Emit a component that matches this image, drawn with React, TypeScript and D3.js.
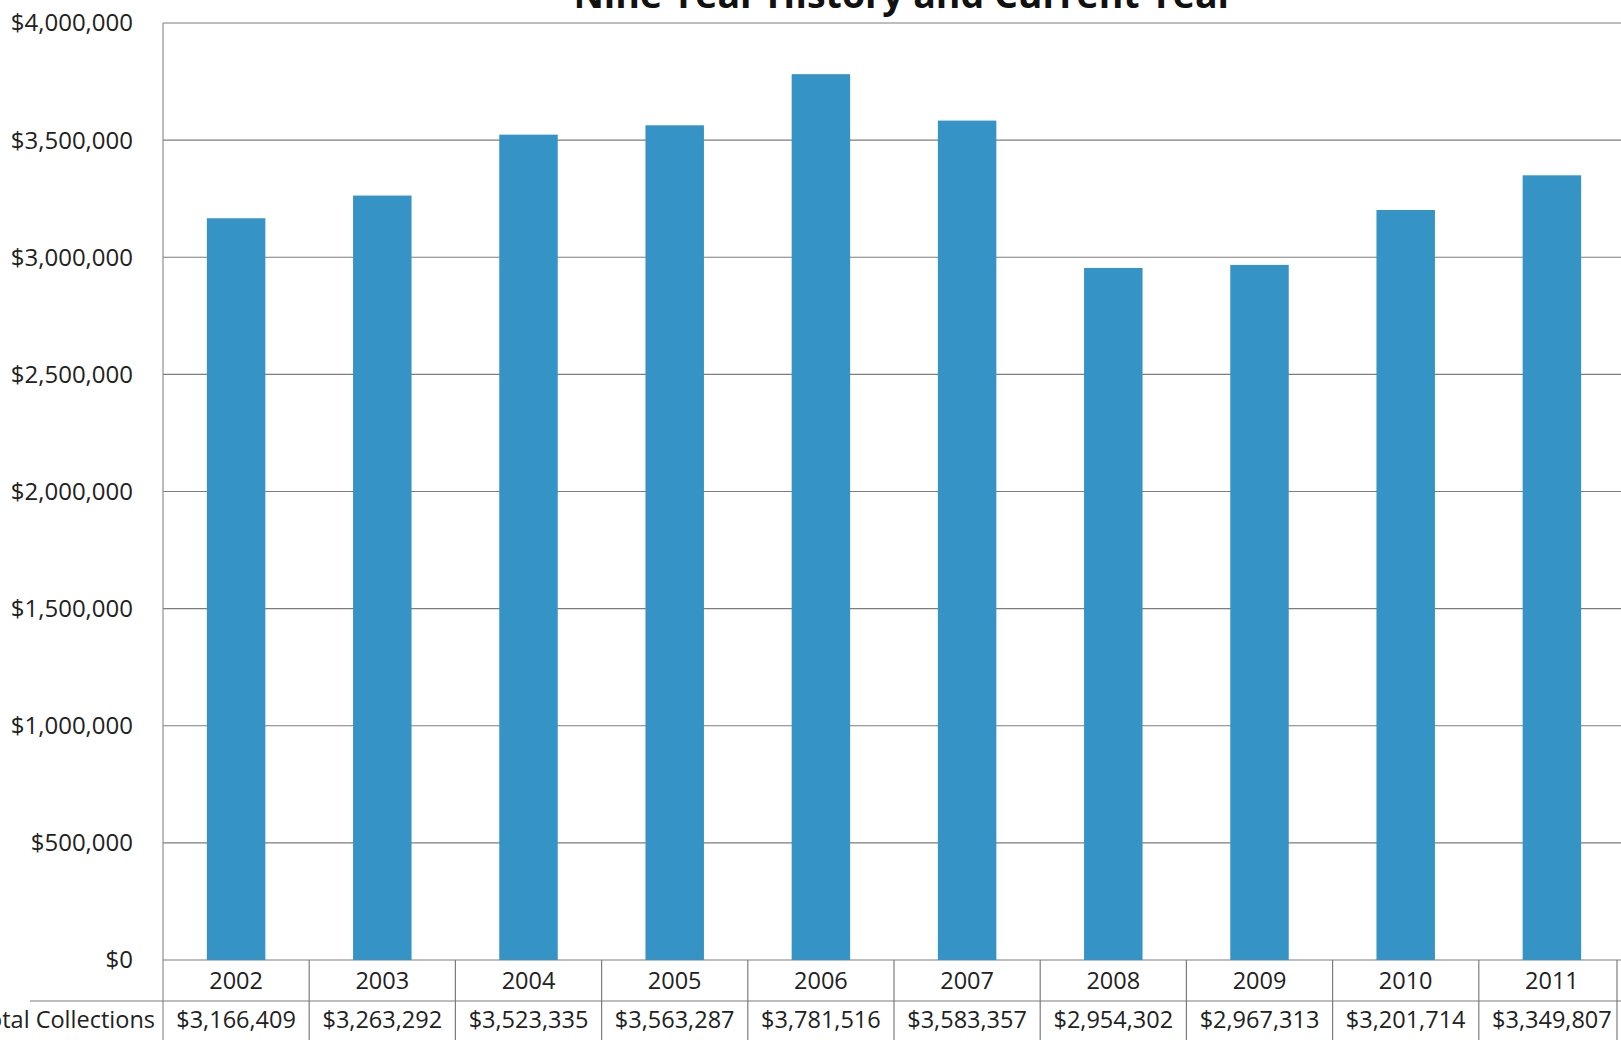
import React from "react";
import * as d3 from "d3";

const years = ["2002", "2003", "2004", "2005", "2006", "2007", "2008", "2009", "2010", "2011"];
const collections = [3166409, 3263292, 3523335, 3563287, 3781516, 3583357, 2954302, 2967313, 3201714, 3349807];
const yTicks = [0, 500000, 1000000, 1500000, 2000000, 2500000, 3000000, 3500000, 4000000];
const title = "Nine Year History and Current Year";
const rowLabel = "Total Collections";

const W = 1621;
const H = 1040;
const left = 163;
const top = 23;
const zeroY = 960;
const step = 146.2;
const row1 = 1001;
const font = "'Open Sans', 'Noto Sans', sans-serif";
const barColor = "#3593c5";
const gridColor = "#7d7d7d";

export default function App() {
  const x = d3.scaleBand<string>().domain(years).range([left, left + step * years.length]).paddingInner(0.6).paddingOuter(0.3);
  const cols = d3.scaleBand<string>().domain(years).range([left, left + step * years.length]).padding(0);
  const y = d3.scaleLinear().domain([0, 4000000]).range([zeroY, top]);
  const money = (v: number) => "$" + d3.format(",")(v);

  return (
    <div style={{ position: "absolute", left: 0, top: 0, width: W, height: H, background: "#fff" }}>
      <svg width={W} height={H} style={{ display: "block", fontFamily: font }}>
        <rect x={0} y={0} width={W} height={H} fill="#fff" />
        {yTicks.map((t) => (
          <line key={"g" + t} x1={left} x2={W} y1={y(t)} y2={y(t)} stroke={gridColor} strokeWidth={1.2} />
        ))}
        {years.map((yr, i) => (
          <rect key={yr} x={x(yr)} y={y(collections[i])} width={x.bandwidth()} height={zeroY - y(collections[i])} fill={barColor} />
        ))}
        {yTicks.map((t) => (
          <text key={"t" + t} x={133} y={y(t)} dy="0.35em" textAnchor="end" fontSize={24} fill="#222">
            {money(t)}
          </text>
        ))}
        <line x1={left} x2={left} y1={top} y2={H} stroke="#8a8fa0" strokeWidth={1.2} />
        <line x1={30} x2={W} y1={row1} y2={row1} stroke={gridColor} strokeWidth={1.2} />
        {years.map((yr) => (
          <line key={"c" + yr} x1={(cols(yr) as number) + cols.bandwidth()} x2={(cols(yr) as number) + cols.bandwidth()} y1={zeroY} y2={H} stroke={gridColor} strokeWidth={1.2} />
        ))}
        <line x1={1617} x2={1617} y1={zeroY} y2={H} stroke={gridColor} strokeWidth={1.2} />
        {years.map((yr, i) => (
          <g key={"r" + yr}>
            <text x={(cols(yr) as number) + cols.bandwidth() / 2} y={981} dy="0.35em" textAnchor="middle" fontSize={23.5} fill="#222">
              {yr}
            </text>
            <text x={(cols(yr) as number) + cols.bandwidth() / 2} y={1020} dy="0.35em" textAnchor="middle" fontSize={23.5} fill="#222">
              {money(collections[i])}
            </text>
          </g>
        ))}
        <text x={155} y={1020} dy="0.35em" textAnchor="end" fontSize={23.5} fill="#222">
          {rowLabel}
        </text>
        <text x={904} y={8} textAnchor="middle" fontSize={37.5} fontWeight="bold" fill="#111">
          {title}
        </text>
      </svg>
    </div>
  );
}
